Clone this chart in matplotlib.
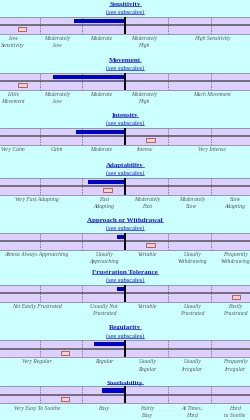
import matplotlib

matplotlib.use("Agg")
import matplotlib.pyplot as plt
from matplotlib.lines import Line2D

# temperament scales: bar runs from score to the centre (3), marker = norm
titles = [
    "Sensitivity", "Movement", "Intensity", "Adaptability",
    "Approach or Withdrawal", "Frustration Tolerance", "Regularity", "Soothability",
]
has_subscales = [True, True, True, True, True, True, True, False]
scores = [1.80, 1.31, 1.84, 2.14, 2.80, 2.81, 2.28, 2.45]
norms = [0.59, 0.60, 3.59, 2.59, 3.59, 5.58, 1.59, 1.59]
scale_labels = [
    ["Low|Sensitivity", "Moderately|Low", "Moderate", "Moderately|High", "High Sensitivity"],
    ["Little|Movement", "Moderately|Low", "Moderate", "Moderately|High", "Much Movement"],
    ["Very Calm", "Calm", "Moderate", "Intense", "Very Intense"],
    ["Very Fast Adapting", "Fast|Adapting", "Moderately|Fast", "Moderately|Slow", "Slow|Adapting"],
    ["Almost Always Approaching", "Usually|Approaching", "Variable", "Usually|Withdrawing", "Frequently|Withdrawing"],
    ["Not Easily Frustrated", "Usually Not|Frustrated", "Variable", "Usually|Frustrated", "Easily|Frustrated"],
    ["Very Regular", "Regular", "Usually|Regular", "Usually|Irregular", "Frequently|Irregular"],
    ["Very Easy To Soothe", "Easy", "Fairly|Easy", "At Times,|Hard", "Hard|to Soothe"],
]

W, H = 250, 420
title_y = [4, 60, 115, 165, 220, 272, 327.5, 382.5]
label_x_a = [13, 57, 101, 144, 212]
label_x_b = [37, 104, 147, 192, 235]
label_layout = [label_x_a, label_x_a, label_x_a] + [label_x_b] * 5

BG = "#ccffff"
STRIP = "#ddd0ff"
LINK = "#1a1acc"
SERIF = ["Liberation Serif", "DejaVu Serif"]

fig = plt.figure(figsize=(W / 100, H / 100), dpi=100, facecolor=BG)
underlined = []

for i, title in enumerate(titles):
    T = title_y[i]
    t1 = fig.text(0.5, 1 - (T + 0.5) / H, title, ha="center", va="center",
                  fontsize=5, fontweight="bold", color=LINK, family=SERIF)
    underlined.append(t1)
    if has_subscales[i]:
        t2 = fig.text(0.5, 1 - (T + 8.5) / H, "(see subscales)", ha="center", va="center",
                      fontsize=4.6, color=LINK, family=SERIF)
        underlined.append(t2)
        top = T + 12.5
    else:
        top = T + 3.8
    bot = top + 17

    ax = fig.add_axes([0, 1 - bot / H, 1, (bot - top) / H])
    ax.set_facecolor(STRIP)
    ax.set_xlim(0.079, 5.907)
    ax.set_ylim(0, 2)
    ax.set_xticks([])
    ax.set_yticks([])
    for s in ("left", "right"):
        ax.spines[s].set_visible(False)
    for s in ("top", "bottom"):
        ax.spines[s].set_color("#8a8a9a")
        ax.spines[s].set_linewidth(0.6)
    for x in (1, 2, 4, 5):
        ax.axvline(x, color="#666666", lw=0.6, ls=(0, (1.5, 1.5)))
    ax.axhline(1, color="#555555", lw=1.1)
    ax.barh(1.5, 3 - scores[i], left=scores[i], height=0.5, color="#0000cc", zorder=3)
    ax.barh(0.5, 0.2, left=norms[i] - 0.1, height=0.42, color="#ffcccc",
            edgecolor="#995555", linewidth=0.6, zorder=3)
    ax.axvline(3, color="black", lw=1.4, zorder=4)

    for x, lab in zip(label_layout[i], scale_labels[i]):
        for k, line in enumerate(lab.split("|")):
            fig.text(x / W, 1 - (bot + 5 + 7 * k) / H, line, ha="center", va="center",
                     fontsize=4.1, style="italic", color="#555555", family=SERIF)

fig.canvas.draw()
r = fig.canvas.get_renderer()
for t in underlined:
    bb = t.get_window_extent(r)
    y = (bb.y0 + 1.2) / fig.bbox.height
    fig.add_artist(Line2D([bb.x0 / fig.bbox.width, bb.x1 / fig.bbox.width], [y, y],
                          color=LINK, lw=0.5))

fig.savefig("out.png", dpi=100, facecolor=BG)
